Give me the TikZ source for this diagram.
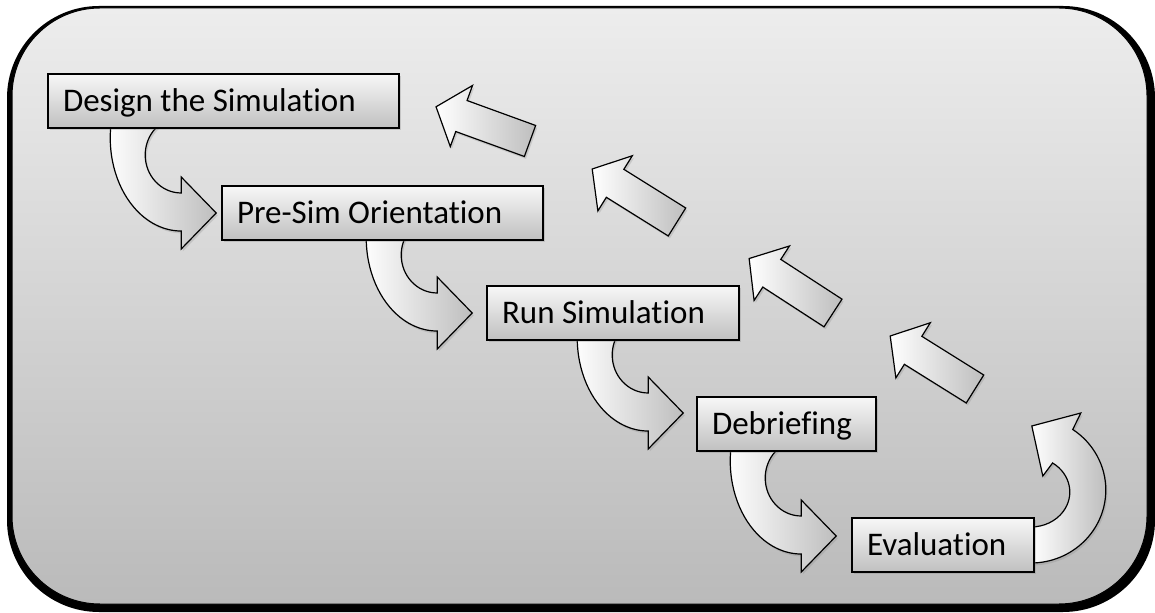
\documentclass[tikz,border=0pt]{standalone}
\usepackage{fontspec}
\setmainfont{Carlito}[Ligatures=NoCommon]
\usepackage{tikz}
\usetikzlibrary{calc}
\usetikzlibrary{shadows}
\usetikzlibrary{backgrounds}

\pgfdeclarelayer{mid}
\pgfsetlayers{background,mid,main}

% curved arrow going down and round to the right, tip at the origin
\newcommand{\bendarrow}[1]{%
  \draw[blockarrow,shift={#1}] (-104.4,94.3) arc[start angle=168,end angle=270,x radius=35.5pt,y radius=46.5pt]
    -- (-35,-36) -- (0,0) -- (-35,36) -- (-35,20)
    arc[start angle=270,end angle=103,x radius=18pt,y radius=19pt] -- cycle;}
% straight arrow, tail centre at #1, turned by #2
\newcommand{\backarrow}[2]{%
  \draw[blockarrow,shift={#1},rotate=#2] (0,-16.5) -- (73,-16.5) -- (73,-32.5) -- (100,0)
    -- (73,32.5) -- (73,16.5) -- (0,16.5) -- cycle;}

\begin{document}
\begin{tikzpicture}[x=0.5pt,y=0.5pt,
    stage/.style={
      draw=black,
      thick,
      top color=boxtop,
      bottom color=boxbot,
      font=\fontsize{16.5}{20}\selectfont,
      align=left,
      execute at begin node={\spaceskip=0.226em\relax},
      inner sep=7.5pt,
      minimum height=27pt,
      text height=10.6pt,
      text depth=0pt,
      drop shadow={opacity=0.3,shadow xshift=0.8pt,shadow yshift=-1.2pt}
    },
    blockarrow/.style={
      draw=black,
      semithick,
      left color=white,
      right color=arrowbot,
      drop shadow={opacity=0.25,shadow xshift=0.8pt,shadow yshift=-1.2pt}
    }]

\definecolor{frametop}{RGB}{237,237,237}
\definecolor{framebot}{RGB}{186,186,186}
\definecolor{boxtop}{RGB}{247,247,247}
\definecolor{boxbot}{RGB}{192,192,192}
\definecolor{arrowbot}{RGB}{190,190,190}

\useasboundingbox (0,0) rectangle (1155,-613);

\node[stage,text width=160.5pt] (ds) at (223.5,-101) {Design the Simulation};
\node[stage,text width=145.5pt] (po) at (382.5,-213) {Pre-Sim Orientation};
\node[stage,text width=111pt] (rs) at (613,-313) {Run Simulation};
\node[stage,text width=74.5pt] (db) at (786.5,-424) {Debriefing};
\node[stage,text width=76pt] (ev) at (943,-545) {Evaluation};

\begin{pgfonlayer}{background}
\fill[black,rounded corners=46pt] (7,-6) rectangle (1155,-612);
\draw[black,line width=0.5pt,rounded corners=44pt,top color=frametop,bottom color=framebot] (12,-8) rectangle (1147,-604);
\end{pgfonlayer}

\begin{pgfonlayer}{mid}
\bendarrow{($(po.west)+(-5,0)$)}
\bendarrow{($(rs.west)+(-14,0)$)}
\bendarrow{($(db.west)+(-13,11)$)}
\bendarrow{($(ev.west)+(-15,9)$)}

\draw[blockarrow,shift={(ev.east)}] (-4,-18) arc[start angle=-90,end angle=56,x radius=37.5pt,y radius=36.5pt]
  -- (46,132) -- (-3,119) -- (8,69) -- (17.8,82)
  arc[start angle=56,end angle=-90,x radius=19.5pt,y radius=17.5pt] -- cycle;

\backarrow{(530,-141)}{160}
\backarrow{(677,-222)}{148}
\backarrow{(833,-313)}{147}
\backarrow{(975,-389)}{148}
\end{pgfonlayer}

\end{tikzpicture}
\end{document}
